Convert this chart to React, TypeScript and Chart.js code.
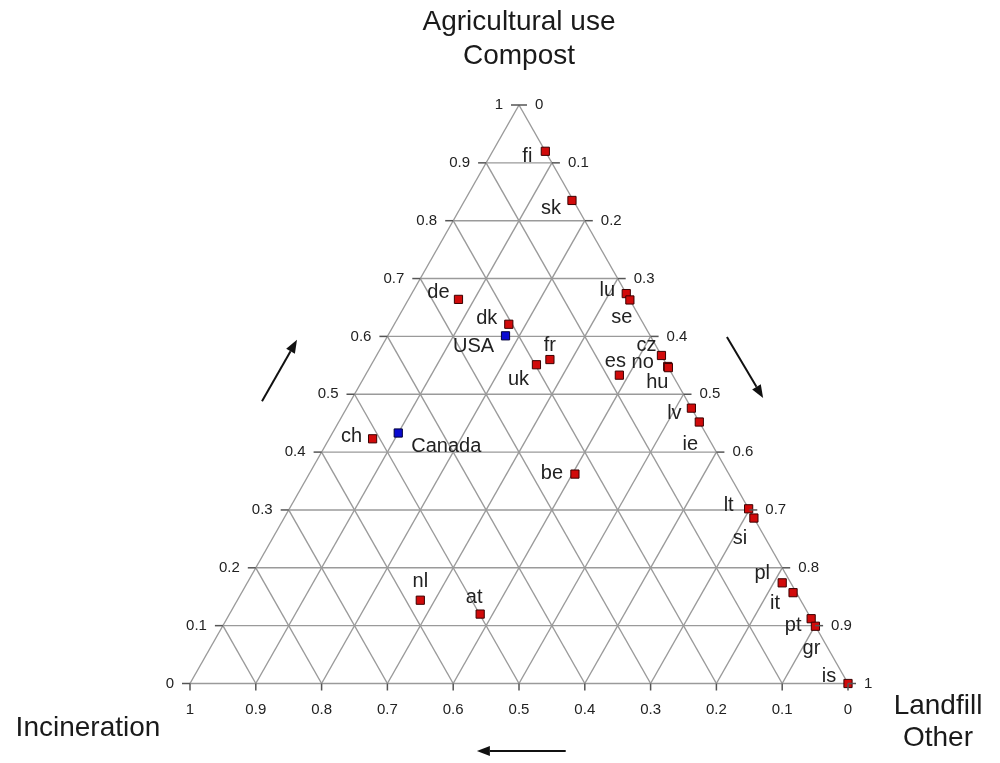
import { useEffect, useRef } from 'react';
import { Chart, registerables } from 'chart.js';

Chart.register(...registerables);

// ---- Data (ternary fractions) ----
const countries = ['fi', 'sk', 'de', 'dk', 'fr', 'uk', 'lu', 'se', 'cz', 'no', 'hu', 'es', 'lv', 'ie', 'ch', 'be', 'lt', 'si', 'nl', 'at', 'pl', 'it', 'pt', 'gr', 'is'];
const compost = [0.92, 0.835, 0.664, 0.621, 0.56, 0.551, 0.674, 0.663, 0.567, 0.548, 0.546, 0.533, 0.476, 0.452, 0.423, 0.362, 0.302, 0.286, 0.144, 0.12, 0.174, 0.157, 0.112, 0.099, 0.0];
const landfill = [0.08, 0.163, 0.076, 0.174, 0.267, 0.251, 0.326, 0.337, 0.433, 0.452, 0.454, 0.386, 0.524, 0.548, 0.066, 0.404, 0.698, 0.714, 0.278, 0.381, 0.813, 0.838, 0.888, 0.901, 1.0];
const incineration = [0.0, 0.002, 0.26, 0.205, 0.173, 0.198, 0.0, 0.0, 0.0, 0.0, 0.0, 0.081, 0.0, 0.0, 0.511, 0.234, 0.0, 0.0, 0.578, 0.499, 0.013, 0.005, 0.0, 0.0, 0.0];

const otherCountries = ['USA', 'Canada'];
const otherCompost = [0.601, 0.433];
const otherLandfill = [0.179, 0.1];
const otherIncineration = [0.22, 0.467];

const tickValues = [0, 0.1, 0.2, 0.3, 0.4, 0.5, 0.6, 0.7, 0.8, 0.9, 1];
const tickLabels = ['0', '0.1', '0.2', '0.3', '0.4', '0.5', '0.6', '0.7', '0.8', '0.9', '1'];

// ---- Layout (label offsets in px, arrows in plot coords) ----
const labelOffsets: Record<string, [number, number]> = {
  fi: [-18, 5], sk: [-21, 8], de: [-20, -7], dk: [-22, -6], fr: [0, -14], uk: [-18, 15],
  lu: [-19, -3], se: [-8, 18], cz: [-15, -10], no: [-25, -4], hu: [-11, 15], es: [-4, -14],
  lv: [-17, 5], ie: [-9, 22], ch: [-21, -2], be: [-23, -1], lt: [-20, -3], si: [-14, 20],
  nl: [0, -19], at: [-6, -17], pl: [-20, -9], it: [-18, 11], pt: [-18, 7], gr: [-4, 22], is: [-19, -7],
  USA: [-32, 11], Canada: [48, 13],
};
const arrows: [number, number, number, number][] = [
  [0.1094, 0.488, 0.1626, 0.594],
  [0.816, 0.599, 0.871, 0.4935],
  [0.571, -0.1167, 0.436, -0.1167],
];

const toXY = (c: number, l: number, i: number) => {
  const s = c + l + i;
  const cc = c / s, ll = l / s;
  return { x: ll + cc / 2, y: cc };
};

const FONT = '"Liberation Sans", Arial, Helvetica, sans-serif';

export default function App() {
  const ref = useRef<HTMLCanvasElement>(null);

  useEffect(() => {
    if (!ref.current) return;
    const gridSets: any[] = [];
    const gridStyle = { type: 'line', showLine: true, pointRadius: 0, borderColor: '#9a9a9a', borderWidth: 1.4, order: 5, clip: false, fill: false };
    tickValues.forEach((t) => {
      // constant compost
      gridSets.push({ ...gridStyle, data: [toXY(t, 0, 1 - t), toXY(t, 1 - t, 0)] });
      // constant landfill
      gridSets.push({ ...gridStyle, data: [toXY(0, t, 1 - t), toXY(1 - t, t, 0)] });
      // constant incineration
      gridSets.push({ ...gridStyle, data: [toXY(1 - t, 0, t), toXY(0, 1 - t, t)] });
    });

    const europe = countries.map((_, k) => toXY(compost[k], landfill[k], incineration[k]));
    const others = otherCountries.map((_, k) => toXY(otherCompost[k], otherLandfill[k], otherIncineration[k]));

    const overlay = {
      id: 'ternaryOverlay',
      afterDatasetsDraw(chart: any) {
        const ctx = chart.ctx as CanvasRenderingContext2D;
        const xs = chart.scales.x, ys = chart.scales.y;
        const px = (x: number, y: number) => [xs.getPixelForValue(x), ys.getPixelForValue(y)];
        ctx.save();
        // ticks
        ctx.strokeStyle = '#555';
        ctx.lineWidth = 1.5;
        ctx.fillStyle = '#222';
        ctx.font = `15px ${FONT}`;
        tickValues.forEach((t, k) => {
          // left axis (compost)
          let [x, y] = px(t / 2, t);
          ctx.beginPath(); ctx.moveTo(x - 8, y); ctx.lineTo(x, y); ctx.stroke();
          ctx.textAlign = 'right'; ctx.textBaseline = 'middle';
          ctx.fillText(tickLabels[k], x - 16, y);
          // right axis (landfill)
          [x, y] = px((1 + t) / 2, 1 - t);
          ctx.beginPath(); ctx.moveTo(x, y); ctx.lineTo(x + 8, y); ctx.stroke();
          ctx.textAlign = 'left';
          ctx.fillText(tickLabels[k], x + 16, y);
          // bottom axis (incineration)
          [x, y] = px(1 - t, 0);
          ctx.beginPath(); ctx.moveTo(x, y); ctx.lineTo(x, y + 7); ctx.stroke();
          ctx.textAlign = 'center'; ctx.textBaseline = 'middle';
          ctx.fillText(tickLabels[k], x, y + 26);
        });
        // point labels
        ctx.font = `20px ${FONT}`;
        ctx.fillStyle = '#222';
        ctx.textAlign = 'center';
        ctx.textBaseline = 'middle';
        const drawLabels = (names: string[], pts: { x: number; y: number }[]) => {
          names.forEach((n, k) => {
            const [x, y] = px(pts[k].x, pts[k].y);
            const o = labelOffsets[n] || [0, 0];
            ctx.fillText(n, x + o[0], y + o[1]);
          });
        };
        drawLabels(countries, europe);
        drawLabels(otherCountries, others);
        // arrows
        ctx.strokeStyle = '#111';
        ctx.fillStyle = '#111';
        ctx.lineWidth = 2;
        arrows.forEach(([x1, y1, x2, y2]) => {
          const [a, b] = px(x1, y1);
          const [c, d] = px(x2, y2);
          const ang = Math.atan2(d - b, c - a);
          const hl = 13, hw = 5;
          const bx = c - hl * Math.cos(ang), by = d - hl * Math.sin(ang);
          ctx.beginPath(); ctx.moveTo(a, b); ctx.lineTo(bx, by); ctx.stroke();
          ctx.beginPath();
          ctx.moveTo(c, d);
          ctx.lineTo(bx + hw * Math.sin(ang), by - hw * Math.cos(ang));
          ctx.lineTo(bx - hw * Math.sin(ang), by + hw * Math.cos(ang));
          ctx.closePath(); ctx.fill();
        });
        // axis titles
        ctx.fillStyle = '#1a1a1a';
        ctx.font = `28px ${FONT}`;
        ctx.textAlign = 'center';
        ctx.textBaseline = 'middle';
        const [ax] = px(0.5, 1);
        ctx.fillText('Agricultural use', ax, 22);
        ctx.fillText('Compost', ax, 56);
        ctx.fillText('Incineration', 88, 728);
        ctx.fillText('Landfill', 938, 706);
        ctx.fillText('Other', 938, 738);
        ctx.restore();
      },
    };

    const chart = new Chart(ref.current, {
      type: 'scatter',
      data: {
        datasets: [
          {
            label: 'Europe',
            data: europe,
            pointStyle: 'rect',
            pointRadius: 5.8,
            pointBackgroundColor: '#d10a0a',
            pointBorderColor: '#3a0000',
            pointBorderWidth: 1,
            order: 0,
            clip: false,
          } as any,
          {
            label: 'North America',
            data: others,
            pointStyle: 'rect',
            pointRadius: 5.8,
            pointBackgroundColor: '#0a0ad1',
            pointBorderColor: '#00003a',
            pointBorderWidth: 1,
            order: 0,
            clip: false,
          } as any,
          ...gridSets,
        ],
      },
      options: {
        responsive: false,
        animation: false,
        layout: { padding: { left: 190, right: 152, top: 105, bottom: 79.5 } },
        plugins: { legend: { display: false }, tooltip: { enabled: false } },
        scales: {
          x: { type: 'linear', min: 0, max: 1, display: false },
          y: { type: 'linear', min: 0, max: 1, display: false },
        },
      },
      plugins: [overlay],
    });
    return () => chart.destroy();
  }, []);

  return (
    <div style={{ position: 'absolute', left: 0, top: 0, width: 1000, height: 763, background: '#fff' }}>
      <canvas ref={ref} width={1000} height={763} style={{ display: 'block' }} />
    </div>
  );
}
